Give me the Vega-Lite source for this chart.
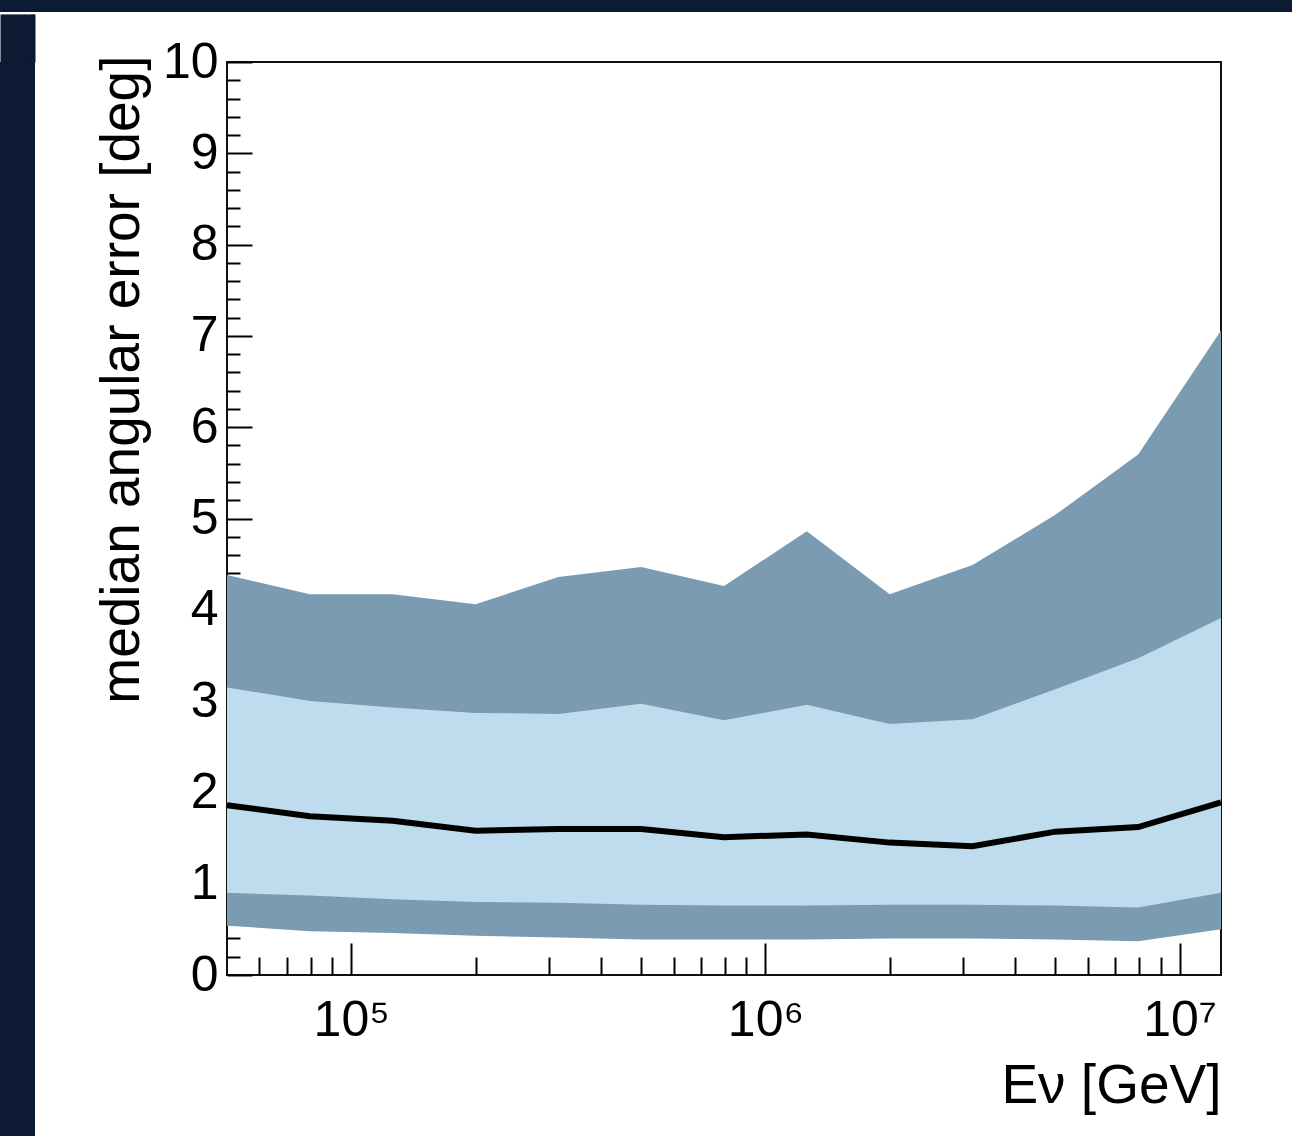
{
  "$schema": "https://vega.github.io/schema/vega-lite/v6.json",
  "background": "white",
  "padding": 0,
  "spacing": 0,
  "config": {"font": "Liberation Sans", "concat": {"spacing": 0}},
  "datasets": {
    "bands": [
      {"E": 50119, "hi90": 4.38, "hi68": 3.15, "med": 1.86, "lo68": 0.9, "lo90": 0.54},
      {"E": 79433, "hi90": 4.17, "hi68": 3.0, "med": 1.74, "lo68": 0.87, "lo90": 0.48},
      {"E": 125893, "hi90": 4.17, "hi68": 2.93, "med": 1.69, "lo68": 0.83, "lo90": 0.46},
      {"E": 199526, "hi90": 4.06, "hi68": 2.87, "med": 1.58, "lo68": 0.8, "lo90": 0.43},
      {"E": 316228, "hi90": 4.36, "hi68": 2.86, "med": 1.6, "lo68": 0.79, "lo90": 0.41},
      {"E": 501187, "hi90": 4.47, "hi68": 2.97, "med": 1.6, "lo68": 0.77, "lo90": 0.39},
      {"E": 794328, "hi90": 4.26, "hi68": 2.79, "med": 1.51, "lo68": 0.76, "lo90": 0.39},
      {"E": 1258925, "hi90": 4.86, "hi68": 2.96, "med": 1.54, "lo68": 0.76, "lo90": 0.39},
      {"E": 1995262, "hi90": 4.17, "hi68": 2.75, "med": 1.45, "lo68": 0.77, "lo90": 0.4},
      {"E": 3162278, "hi90": 4.49, "hi68": 2.8, "med": 1.41, "lo68": 0.77, "lo90": 0.4},
      {"E": 5011872, "hi90": 5.04, "hi68": 3.13, "med": 1.57, "lo68": 0.76, "lo90": 0.39},
      {"E": 7943282, "hi90": 5.7, "hi68": 3.47, "med": 1.62, "lo68": 0.74, "lo90": 0.37},
      {"E": 12589254, "hi90": 7.06, "hi68": 3.91, "med": 1.89, "lo68": 0.9, "lo90": 0.5}
    ]
  },
  "vconcat": [
    {
      "width": 1292, "height": 12,
      "data": {"values": []},
      "mark": "rect", "encoding": {},
      "view": {"fill": "#0c1a33", "stroke": null}
    },
    {
      "columns": 2,
      "spacing": 58,
      "align": "none",
      "concat": [
        {
          "width": 35, "height": 1074,
          "data": {"values": []},
          "mark": "rect",
          "encoding": {
            "x": {
              "field": "a", "type": "quantitative",
              "scale": {"domain": [0, 35], "nice": false, "zero": false},
              "axis": {
                "orient": "top", "values": [2, 5, 8, 11, 14, 17, 20, 23, 26, 29, 32, 33],
                "tickSize": 48, "tickWidth": 4, "tickCap": "butt",
                "tickColor": "#0c1a33", "labels": false, "domain": false, "grid": false, "title": null
              }
            }
          },
          "view": {"fill": "#0c1a33", "stroke": null}
        },
        {
          "width": 994, "height": 913,
          "data": {"name": "bands"},
          "view": {"stroke": "#111111", "strokeWidth": 2, "fill": "white"},
          "encoding": {
            "x": {
              "field": "E", "type": "quantitative",
              "scale": {"type": "log", "domain": [50119, 12589254], "nice": false},
              "axis": {
                "values": [60000, 70000, 80000, 90000, 100000, 200000, 300000, 400000, 500000, 600000, 700000, 800000, 900000, 1000000, 2000000, 3000000, 4000000, 5000000, 6000000, 7000000, 8000000, 9000000, 10000000],
                "labelExpr": "datum.value == 100000 ? '10⁵' : datum.value == 1000000 ? '10⁶' : datum.value == 10000000 ? '10⁷' : ''",
                "tickSize": {"condition": {"test": "datum.value == 100000 || datum.value == 1000000 || datum.value == 10000000", "value": -32}, "value": -18},
                "tickWidth": 2, "tickColor": "black",
                "labelFontSize": 50, "labelColor": "black", "labelPadding": 52,
                "labelOverlap": false, "labelBound": false, "labelFlush": false,
                "domain": false, "grid": false,
                "title": "Eν [GeV]", "titleFontSize": 55, "titleFontWeight": "normal",
                "titleColor": "black", "titleAnchor": "end", "titlePadding": 0
              }
            },
            "y": {
              "type": "quantitative",
              "title": "median angular error [deg]",
              "scale": {"domain": [0, 10], "nice": false},
              "axis": {
                "values": [0, 0.2, 0.4, 0.6, 0.8, 1, 1.2, 1.4, 1.6, 1.8, 2, 2.2, 2.4, 2.6, 2.8, 3, 3.2, 3.4, 3.6, 3.8, 4, 4.2, 4.4, 4.6, 4.8, 5, 5.2, 5.4, 5.6, 5.8, 6, 6.2, 6.4, 6.6, 6.8, 7, 7.2, 7.4, 7.6, 7.8, 8, 8.2, 8.4, 8.6, 8.8, 9, 9.2, 9.4, 9.6, 9.8, 10],
                "labelExpr": "datum.value % 1 == 0 ? format(datum.value, 'd') : ''",
                "tickSize": {"condition": {"test": "datum.value % 1 == 0", "value": -25}, "value": -13},
                "tickWidth": 2, "tickColor": "black",
                "labelFontSize": 50, "labelColor": "black", "labelPadding": 34,
                "labelOverlap": false, "labelBound": false, "labelFlush": false,
                "domain": false, "grid": false,
                "titleFontSize": 55, "titleFontWeight": "normal", "titleColor": "black",
                "titleAnchor": "end", "titleAlign": "right", "titleY": -7, "titlePadding": 12
              }
            }
          },
          "layer": [
            {
              "mark": {"type": "area", "color": "#7b9bb3", "opacity": 1},
              "encoding": {
                "y": {"field": "hi90"},
                "y2": {"field": "lo90"}
              }
            },
            {
              "mark": {"type": "area", "color": "#bedcee", "opacity": 1},
              "encoding": {
                "y": {"field": "hi68"},
                "y2": {"field": "lo68"}
              }
            },
            {
              "mark": {"type": "line", "color": "black", "strokeWidth": 6},
              "encoding": {
                "y": {"field": "med"}
              }
            }
          ]
        }
      ]
    }
  ]
}
